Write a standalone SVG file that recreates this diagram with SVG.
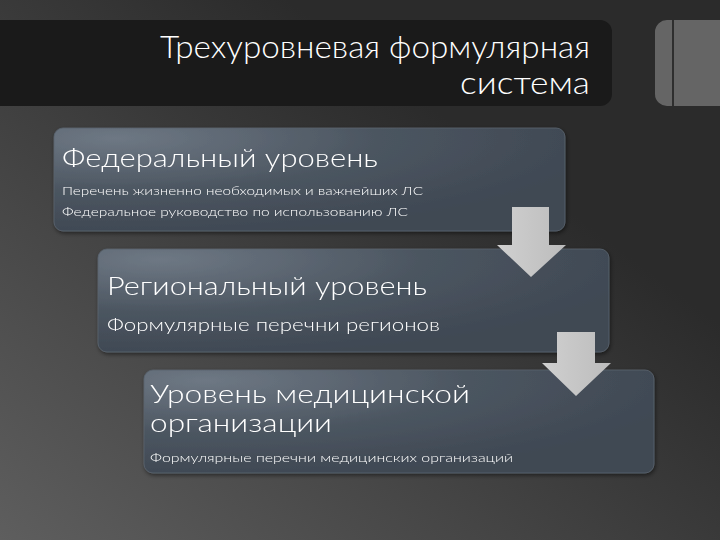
<svg xmlns="http://www.w3.org/2000/svg" width="720" height="540" viewBox="0 0 720 540">
<defs>
<linearGradient id="bg" x1="0.7" y1="0.3" x2="0" y2="1">
<stop offset="0" stop-color="#2b2b2b"/>
<stop offset="1" stop-color="#5e5e5e"/>
</linearGradient>
<radialGradient id="box" cx="0.12" cy="0.1" r="0.95">
<stop offset="0" stop-color="#6e7884"/>
<stop offset="0.55" stop-color="#4b5560"/>
<stop offset="1" stop-color="#3f4853"/>
</radialGradient>
<linearGradient id="arr" x1="0" y1="0" x2="1" y2="0">
<stop offset="0" stop-color="#d0d0d0"/>
<stop offset="1" stop-color="#bcbcbc"/>
</linearGradient>
<filter id="sh" x="-5%" y="-10%" width="110%" height="125%">
<feGaussianBlur in="SourceAlpha" stdDeviation="2"/>
<feOffset dx="1" dy="2"/>
<feComponentTransfer><feFuncA type="linear" slope="0.5"/></feComponentTransfer>
<feMerge><feMergeNode/><feMergeNode in="SourceGraphic"/></feMerge>
</filter>
</defs>
<style>
text{font-family:Lato,"Liberation Sans","DejaVu Sans",sans-serif;font-weight:300;fill:#ffffff}
.h{font-size:26px}
.s{font-size:12px}
.m{font-size:18px}
.t{font-size:31px}
.box{fill:url(#box);stroke:#5a6570;stroke-width:0.8}
.arrow{fill:url(#arr)}
</style>
<rect width="720" height="540" fill="url(#bg)"/>
<g id="title">
<path d="M0 20 H600 A12 12 0 0 1 612 32 V94 A12 12 0 0 1 600 106 H0 Z" fill="#1a1a1a"/>
<text class="t" x="590" y="58" text-anchor="end" textLength="430" lengthAdjust="spacingAndGlyphs">Трехуровневая формулярная</text>
<text class="t" x="590" y="94" text-anchor="end" textLength="130" lengthAdjust="spacingAndGlyphs">система</text>
</g>
<g id="sidebar">
<path d="M668 20 H720 V106 H668 A12 12 0 0 1 655 94 V32 A12 12 0 0 1 668 20 Z" fill="#656565"/>
<rect x="672" y="20" width="2" height="86" fill="#2e2e2e"/>
</g>
<g id="federal" filter="url(#sh)">
<rect class="box" x="54" y="128" width="511" height="103" rx="9"/>
<text class="h" x="62" y="167" textLength="316" lengthAdjust="spacingAndGlyphs">Федеральный уровень</text>
<text class="s" x="62" y="195" textLength="361" lengthAdjust="spacingAndGlyphs">Перечень жизненно необходимых и важнейших ЛС</text>
<text class="s" x="62" y="216" textLength="346" lengthAdjust="spacingAndGlyphs">Федеральное руководство по использованию ЛС</text>
</g>
<g id="regional" filter="url(#sh)">
<rect class="box" x="98" y="249" width="511" height="103" rx="9"/>
<text class="h" x="107" y="295" textLength="320" lengthAdjust="spacingAndGlyphs">Региональный уровень</text>
<text class="m" x="107" y="331" textLength="333" lengthAdjust="spacingAndGlyphs">Формулярные перечни регионов</text>
</g>
<g id="medical" filter="url(#sh)">
<rect class="box" x="144" y="370" width="510" height="103" rx="9"/>
<text class="h" x="150" y="403" textLength="320" lengthAdjust="spacingAndGlyphs">Уровень медицинской</text>
<text class="h" x="150" y="432" textLength="182" lengthAdjust="spacingAndGlyphs">организации</text>
<text class="s" x="150" y="462" textLength="363" lengthAdjust="spacingAndGlyphs">Формулярные перечни медицинских организаций</text>
</g>
<g id="connectors">
<path class="arrow" d="M512 207 H549 V245 H566 L531 277 L497 245 H512 Z"/>
<path class="arrow" d="M557 332 H595 V363 H611 L576 396 L542 363 H557 Z"/>
</g>
</svg>
